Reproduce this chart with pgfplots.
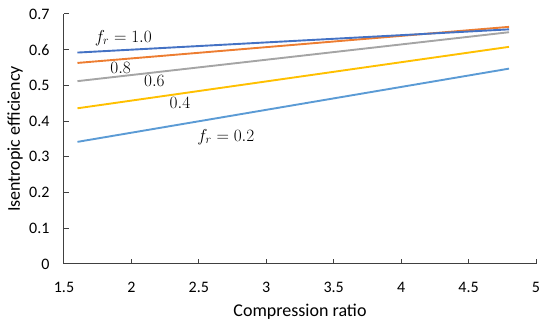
\documentclass[border=0pt]{standalone}
\usepackage{pgfplots}
\pgfplotsset{compat=1.18}
\usepackage{fontspec}
\setmainfont{Carlito}
\definecolor{c10}{HTML}{4472C4}
\definecolor{c08}{HTML}{ED7D31}
\definecolor{c06}{HTML}{A5A5A5}
\definecolor{c04}{HTML}{FFC000}
\definecolor{c02}{HTML}{5B9BD5}
\begin{document}
\begin{tikzpicture}
\begin{axis}[
  scale only axis, width=472pt, height=250pt,
  xmin=1.5, xmax=5, ymin=0, ymax=0.7,
  xtick={1.5,2,...,5}, ytick={0,0.1,...,0.7},
  axis x line*=bottom, axis y line*=left,
  axis line style={-, line width=1pt, color=black!75},
  tick style={line width=1pt, color=black!75},
  tick align=inside, major tick length=5pt,
  /pgf/number format/assume math mode=true,
  /pgf/number format/fixed,
  /pgf/number format/precision=1,
  ticklabel style={font=\fontsize{16}{18}\selectfont},
  xticklabel style={anchor=center, yshift=-23pt},
  yticklabel style={anchor=east, xshift=-11pt},
  xlabel={Compression ratio}, ylabel={Isentropic efficiency},
  label style={font=\fontsize{18}{20}\selectfont},
  xlabel style={at={(axis description cs:0.5,-0.192)}, anchor=center},
  ylabel style={at={(axis description cs:-0.1038,0.5)}, anchor=center},
  clip=false,
]
\addplot[c02, line width=1.9pt] coordinates {(1.6,0.342) (4.8,0.547)};
\addplot[c04, line width=1.9pt] coordinates {(1.6,0.436) (4.8,0.608)};
\addplot[c06, line width=1.9pt] coordinates {(1.6,0.512) (4.8,0.649)};
\addplot[c08, line width=1.9pt] coordinates {(1.6,0.563) (4.8,0.664)};
\addplot[c10, line width=1.9pt] coordinates {(1.6,0.592) (4.8,0.657)};
\node[font=\fontsize{18}{20}\selectfont] at (axis cs:1.94,0.633) {$f_r = 1.0$};
\node[font=\fontsize{18}{20}\selectfont] at (axis cs:1.92,0.549) {$0.8$};
\node[font=\fontsize{18}{20}\selectfont] at (axis cs:2.17,0.513) {$0.6$};
\node[font=\fontsize{18}{20}\selectfont] at (axis cs:2.36,0.451) {$0.4$};
\node[font=\fontsize{18}{20}\selectfont] at (axis cs:2.70,0.356) {$f_r = 0.2$};
\end{axis}
\path (current axis.south west) ++(-64pt,-63pt) (current axis.north east) ++(14pt,14pt);
\end{tikzpicture}
\end{document}
